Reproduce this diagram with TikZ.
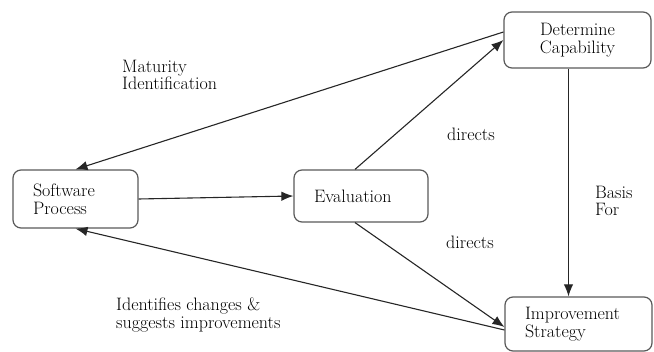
\documentclass[tikz,border=0pt]{standalone}
\usetikzlibrary{arrows.meta}
\tikzstyle{box}=[draw=black!65,line width=1.2pt,rounded corners=8pt,align=left,inner xsep=20pt,inner ysep=0pt,font=\fontsize{18}{18}\selectfont]
\tikzstyle{lbl}=[align=left,anchor=north west,inner sep=0pt,font=\fontsize{18}{17.5}\selectfont]
\tikzstyle{flow}=[draw=black!85,line width=1.1pt,-{Latex[length=12pt,width=9.5pt]}]

\begin{document}
\begin{tikzpicture}[x=1pt,y=-1pt]
      \useasboundingbox (0,0) rectangle (654,352);

      \node[box,text width=85pt,minimum height=58pt] (sp) at (75.5,199) {Software\\Process};
      \node[box,text width=94pt,minimum height=52pt] (ev) at (361,196) {Evaluation};
      \node[box,text width=107pt,minimum height=56pt,align=center] (dc) at (577.5,40) {Determine\\Capability};
      \node[box,text width=107pt,minimum height=54pt] (is) at (578.5,324) {Improvement\\Strategy};

      \draw[flow] (sp.east) -- (ev.west);
      \draw[flow] ([xshift=-6pt]ev.north) -- (dc.west);
      \draw[flow] ([yshift=8pt]dc.west) -- (sp.north);
      \draw[flow] ([xshift=-6pt]ev.south) -- ([yshift=-3pt]is.west);
      \draw[flow] ([yshift=-6pt]is.west) -- (sp.south);
      \draw[flow] ([xshift=-9pt]dc.south) -- ([xshift=-10pt]is.north);

      \node[lbl] (mat) at (122,60) {Maturity\\Identification};
      \node[lbl] (dir1) at (447,128) {directs};
      \node[lbl] (dir2) at (446,236) {directs};
      \node[lbl] (bas) at (595,186) {Basis\\For};
      \node[lbl] (idf) at (116,298) {Identifies changes \&\\suggests improvements};

\end{tikzpicture}
\end{document}
